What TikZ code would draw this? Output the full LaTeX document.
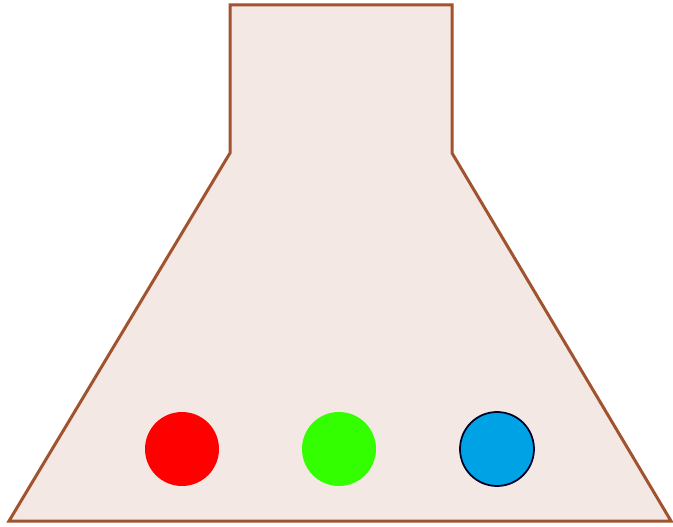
\documentclass[tikz,border=0pt]{standalone}
\usepackage{xcolor}
\usepackage{tikz}
\usetikzlibrary{positioning}
\definecolor{flaskfill}{HTML}{F4E8E4}
\definecolor{flaskedge}{HTML}{A0532E}
\definecolor{ballred}{HTML}{FF0000}
\definecolor{ballgreen}{HTML}{33FF00}
\definecolor{ballblue}{HTML}{00A2E6}
\begin{document}
\begin{tikzpicture}[
      x=0.02cm, y=-0.02cm,
      frasco/.style={draw=flaskedge, fill=flaskfill, line width=0.06cm, line join=miter},
      bola/.style={circle, minimum size=1.48cm, inner sep=0pt}
  ]
    \useasboundingbox (0,0) rectangle (673,527);

    % Frasco
    \draw [frasco] (230,5) -- (452,5) -- (452,153) -- (671,521) -- (9,521) -- (230,153) -- cycle;

    % Bolas
    \node [bola, fill=ballred] (vermelha) at (182,449) {};
    \node [bola, fill=ballgreen] (verde) at (339,449) {};
    \node [bola, fill=ballblue, draw=black!85!blue, line width=0.035cm] (azul) at (497,449) {};
  \end{tikzpicture}
\end{document}
